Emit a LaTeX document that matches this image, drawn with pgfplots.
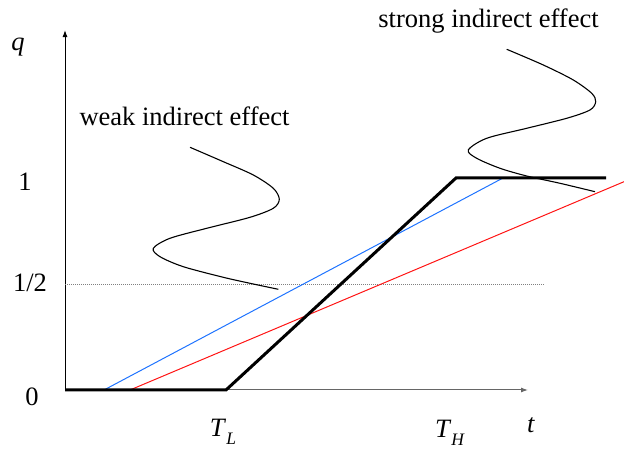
\documentclass[border=0pt]{standalone}
\usepackage{pgfplots}
\pgfplotsset{compat=1.18}
\usepackage{fontspec}
\setmainfont{Liberation Serif}
\usetikzlibrary{arrows.meta}
\definecolor{myblue}{RGB}{30,115,255}
\definecolor{myred}{RGB}{255,20,20}
\newcommand{\bigf}{\fontsize{26.5pt}{30pt}\selectfont}
\newcommand{\subf}{\fontsize{17.5pt}{20pt}\selectfont}
\begin{document}
\begin{tikzpicture}
\begin{axis}[
  width=624pt, height=449pt, scale only axis,
  xmin=-0.65, xmax=5.59, ymin=-0.2783, ymax=1.8396,
  axis lines=none, clip=false,
]
\coordinate (bl) at (rel axis cs:0,0);
\coordinate (tr) at (rel axis cs:1,1);
% axes
\draw[line width=1pt, black!60, -{Latex[length=7pt,width=5pt]}] (axis cs:0,0) -- (axis cs:4.63,0);
\draw[line width=1pt, black, -{Latex[length=7pt,width=5pt]}] (axis cs:0,0) -- (axis cs:0,1.698);
% dotted 1/2 line
\addplot[gray, line width=0.8pt, dash pattern=on 1pt off 1pt] coordinates {(0,0.5) (4.79,0.5)};
% blue and red
\addplot[myblue, line width=1pt] coordinates {(0.39,0) (4.38,1)};
\addplot[myred, line width=1pt] coordinates {(0.65,0) (5.59,0.9825)};
% black thick
\addplot[black, line width=3pt, line join=miter] coordinates {(0,0) (1.61,0) (3.91,1) (5.41,1)};
% weak curve
\addplot[black, line width=1.1pt, smooth] coordinates {
(1.25,1.1448) (1.583,1.0769) (1.883,1.0142) (2.083,0.9514) (2.143,0.8995)
(2.083,0.8571) (1.85,0.8146) (1.417,0.7627) (1.05,0.7156) (0.883,0.6684)
(0.95,0.6288) (1.183,0.5816) (1.583,0.5316) (1.85,0.5033) (2.133,0.475)};
% strong curve
\addplot[black, line width=1.1pt, smooth] coordinates {
(4.417,1.6071) (4.783,1.5330) (5.083,1.4623) (5.267,1.3995) (5.307,1.3599)
(5.25,1.3208) (5.017,1.2816) (4.617,1.2344) (4.217,1.1873) (4.033,1.1321)
(4.117,1.0929) (4.35,1.0458) (4.617,1.0094) (4.95,0.975) (5.30,0.9354)};
% labels
\node[font=\bigf] at (axis cs:-0.47,1.618) {\textit{q}};
\node[font=\bigf] at (axis cs:-0.40,0.981) {1};
\node[font=\bigf] at (axis cs:-0.35,0.505) {1/2};
\node[font=\bigf] at (axis cs:-0.33,-0.033) {0};
\node[font=\bigf] at (axis cs:1.58,-0.198) {\textit{T}\raisebox{-0.3em}{\subf\textit{L}}};
\node[font=\bigf] at (axis cs:3.85,-0.203) {\textit{T}\raisebox{-0.3em}{\subf\textit{H}}};
\node[font=\bigf] at (axis cs:4.66,-0.165) {\textit{t}};
\node[font=\bigf, inner sep=0pt] at (axis cs:1.195,1.292) {weak indirect effect};
\node[font=\bigf, inner sep=0pt] at (axis cs:4.235,1.7415) {strong indirect effect};
\end{axis}
\pgfresetboundingbox
\useasboundingbox (bl) rectangle (tr);
\end{tikzpicture}
\end{document}
